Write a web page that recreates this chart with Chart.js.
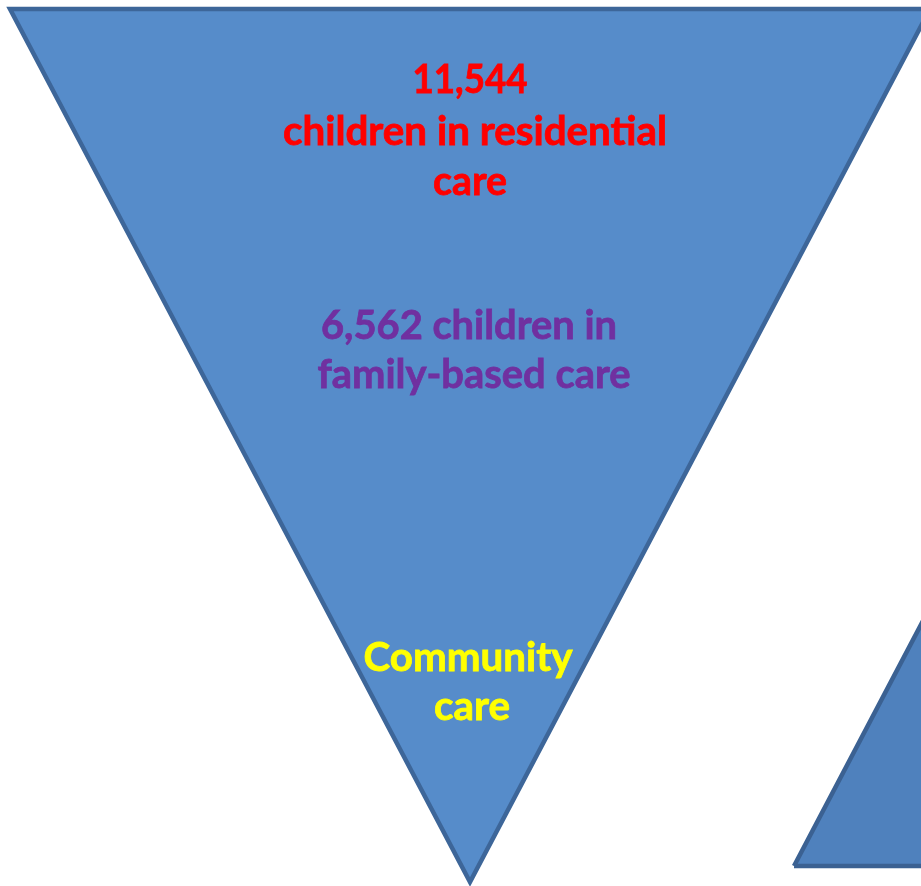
<!DOCTYPE html>
<html>
<head>
<meta charset="utf-8">
<script src="https://cdn.jsdelivr.net/npm/chart.js@4.4.1/dist/chart.umd.min.js"></script>
<style>
  html, body { margin: 0; padding: 0; background: #ffffff; }
  #wrap { width: 921px; height: 886px; }
</style>
</head>
<body>
<div id="wrap"><canvas id="funnel"></canvas></div>
<script>
// outline of the big inverted triangle (diagram units, y grows downward)
const funnelX = [470, 930, 470, 10, 470];
const funnelY = [9, 9, 882, 9, 9];

// second triangle, only its left corner is inside the frame
const trayX = [794, 1057, 1320, 794];
const trayY = [866, 366, 866, 866];

// text lines written in the funnel
const labelLines = ['11,544', 'children in residential', 'care',
                    '6,562 children in', 'family-based care',
                    'Community', 'care'];
const labelColors = ['#ff0000', '#ff0000', '#ff0000',
                     '#7030a0', '#7030a0',
                     '#ffff00', '#ffff00'];

// where each line sits and how wide it runs
const labelY = [80, 132, 182, 326, 375, 658, 707];
const labelW = [115, 384, 74, 296, 313, 209, 76];
const labelCx = [470, 475, 470, 469, 474, 468, 472];

const toPoints = (xs, ys) => xs.map((x, i) => ({ x: x, y: ys[i] }));

const funnelText = {
    id: 'funnelText',
    afterDatasetsDraw(chart) {
        const ctx = chart.ctx;
        const xs = chart.scales.x;
        const ys = chart.scales.y;
        ctx.save();
        ctx.font = 'bold 41px Lato';
        ctx.textAlign = 'center';
        ctx.textBaseline = 'middle';
        labelLines.forEach((txt, i) => {
            ctx.fillStyle = labelColors[i];
            ctx.strokeStyle = labelColors[i];
            ctx.lineWidth = 0.8;
            const px = xs.getPixelForValue(labelCx[i]);
            const py = ys.getPixelForValue(labelY[i]);
            ctx.fillText(txt, px, py, labelW[i]);
            ctx.strokeText(txt, px, py, labelW[i]);
        });
        ctx.restore();
    }
};

new Chart(document.getElementById('funnel'), {
    type: 'scatter',
    data: {
        datasets: [{
            data: toPoints(trayX, trayY),
            showLine: true,
            fill: 'shape',
            backgroundColor: '#4f81bd',
            borderColor: '#3b6192',
            borderWidth: 4.5,
            borderJoinStyle: 'miter',
            pointRadius: 0,
            tension: 0,
            clip: false
        }, {
            data: toPoints(funnelX, funnelY),
            showLine: true,
            fill: 'shape',
            backgroundColor: '#568cca',
            borderColor: '#3d6699',
            borderWidth: 4.5,
            borderJoinStyle: 'miter',
            pointRadius: 0,
            tension: 0,
            clip: false
        }]
    },
    options: {
        responsive: true,
        maintainAspectRatio: false,
        animation: false,
        layout: { padding: 0 },
        plugins: {
            legend: { display: false },
            tooltip: { enabled: false }
        },
        scales: {
            x: { type: 'linear', display: false, min: 0, max: 921 },
            y: { type: 'linear', display: false, min: 0, max: 886, reverse: true }
        }
    },
    plugins: [funnelText]
});
</script>
</body>
</html>
